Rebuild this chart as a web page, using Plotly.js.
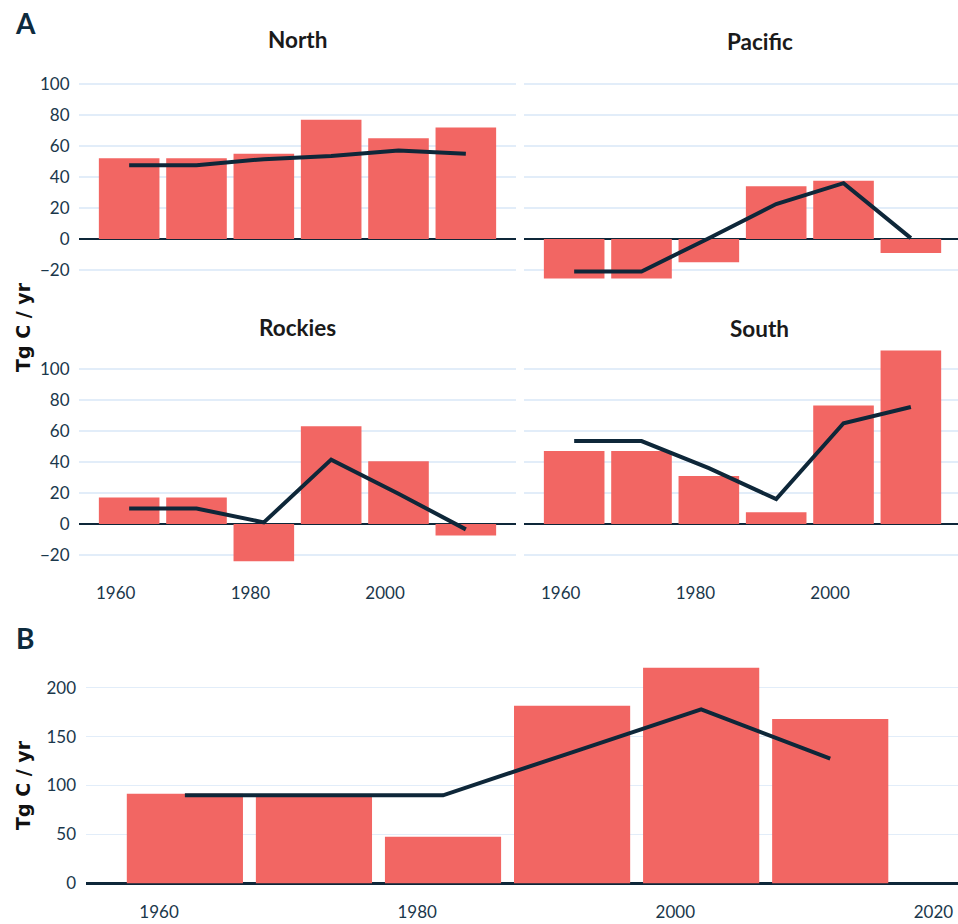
<!DOCTYPE html>
<html>
<head>
<meta charset="utf-8">
<script src="https://cdn.plot.ly/plotly-3.0.1.min.js"></script>
<style>html,body{margin:0;padding:0;background:#fff;}#chart{width:958px;height:924px;}</style>
</head>
<body>
<div id="chart"></div>
<script>
// ---- data ----
const years = [1962, 1972, 1982, 1992, 2002, 2012];
const northBars   = [52, 52, 55, 77, 65, 72];
const northLine   = [47.5, 47.5, 51.5, 53.5, 57, 55];
const pacificBars = [-25.5, -25.5, -15, 34, 37.5, -9];
const pacificLine = [-21, -21, 0.5, 22.5, 36, 0.5];
const rockiesBars = [17, 17, -24, 63, 40.5, -7.5];
const rockiesLine = [10, 10, 1, 41.5, 19.5, -3.5];
const southBars   = [47, 47, 31, 7.5, 76.5, 112];
const southLine   = [53.5, 53.5, 36, 16, 65, 75.5];
const totalBars   = [91.5, 91, 47.5, 181.5, 220.5, 168];
const totalLine   = [90, 90, 90, 134, 178, 127.5];
const regionNames = ["North", "Pacific", "Rockies", "South"];
const xTicksA = [1960, 1980, 2000];
const xTicksB = [1960, 1980, 2000, 2020];
const yTicksA = [-20, 0, 20, 40, 60, 80, 100];
const yTicksB = [0, 50, 100, 150, 200];

// ---- style ----
const W = 958, H = 924;
const barColor = "#F26663";
const lineColor = "#0E2739";
const gridColor = "#E2EDF9";
const tickColor = "#1A374B";
const fontFam = "Lato, 'Open Sans', sans-serif";

const px = (a, b) => [a / W, b / W];
const py = (top, bottom) => [1 - bottom / H, 1 - top / H];

const panels = [
  {bars: northBars,   line: northLine,   x: px(79, 516),  y: py(54.7, 289)},
  {bars: pacificBars, line: pacificLine, x: px(524, 958), y: py(54.7, 289)},
  {bars: rockiesBars, line: rockiesLine, x: px(79, 516),  y: py(339.7, 574)},
  {bars: southBars,   line: southLine,   x: px(524, 958), y: py(339.7, 574)},
  {bars: totalBars,   line: totalLine,   x: px(85.5, 958), y: py(657, 894)}
];

const traces = [];
const layout = {
  width: W, height: H,
  margin: {l: 0, r: 0, t: 0, b: 0},
  paper_bgcolor: "#fff", plot_bgcolor: "#fff",
  showlegend: false,
  font: {family: fontFam, color: tickColor, size: 17},
  annotations: []
};

panels.forEach((p, i) => {
  const n = i + 1;
  const xa = n === 1 ? "x" : "x" + n;
  const ya = n === 1 ? "y" : "y" + n;
  traces.push({type: "bar", x: years, y: p.bars, width: 9, xaxis: xa, yaxis: ya,
    marker: {color: barColor, line: {width: 0}}, hoverinfo: "skip"});
  traces.push({type: "scatter", mode: "lines", x: years, y: p.line, xaxis: xa, yaxis: ya,
    line: {color: lineColor, width: 4}, hoverinfo: "skip"});

  const isB = i === 4;
  const rightCol = (i === 1 || i === 3);
  const topRow = (i === 0 || i === 1);
  const xr = isB ? [1954.3, 2021.9] : (rightCol ? [1954.55, 2019.0] : [1954.55, 2019.45]);
  layout[n === 1 ? "xaxis" : "xaxis" + n] = {
    domain: p.x, anchor: ya, range: xr,
    tickvals: isB ? xTicksB : xTicksA,
    showticklabels: !topRow,
    ticks: "outside", ticklen: isB ? 3 : 4, tickcolor: "rgba(0,0,0,0)",
    showgrid: false, zeroline: false, showline: false,
    tickfont: {family: fontFam, size: 17, color: tickColor}
  };
  layout[n === 1 ? "yaxis" : "yaxis" + n] = {
    domain: p.y, anchor: xa,
    range: isB ? [-11, 231.5] : [-32.3, 118.9],
    tickvals: isB ? yTicksB : yTicksA,
    showticklabels: !rightCol,
    ticks: "outside", ticklen: 5, tickcolor: "rgba(0,0,0,0)",
    showgrid: true, gridcolor: gridColor, gridwidth: 1.4,
    zeroline: true, zerolinecolor: lineColor, zerolinewidth: 2.6,
    showline: false,
    tickfont: {family: fontFam, size: 17, color: tickColor}
  };
});

// panel titles
const titlePos = [[297.5, 40], [759.5, 42], [297.5, 327], [759.5, 328]];
regionNames.forEach((name, i) => {
  layout.annotations.push({text: "<b>" + name + "</b>", xref: "paper", yref: "paper",
    x: titlePos[i][0] / W, y: 1 - titlePos[i][1] / H, xanchor: "center", yanchor: "middle",
    showarrow: false, font: {family: fontFam, size: 22.5, color: "#1A1A1A"}});
});
// panel letters
[["A", 25, 23], ["B", 25, 638]].forEach(([t, x, y]) => {
  layout.annotations.push({text: "<b>" + t + "</b>", xref: "paper", yref: "paper",
    x: x / W, y: 1 - y / H, xanchor: "center", yanchor: "middle", showarrow: false,
    font: {family: fontFam, size: 28, color: "#0D2B3E"}});
});
// y titles
[[23, 327], [23, 785]].forEach(([x, y]) => {
  layout.annotations.push({text: "<b>Tg C / yr</b>", xref: "paper", yref: "paper",
    x: x / W, y: 1 - y / H, xanchor: "center", yanchor: "middle", textangle: -90,
    showarrow: false, font: {family: "'DejaVu Sans', sans-serif", size: 19, color: "#111111"}});
});

Plotly.newPlot("chart", traces, layout, {displayModeBar: false, staticPlot: true});
</script>
</body>
</html>
